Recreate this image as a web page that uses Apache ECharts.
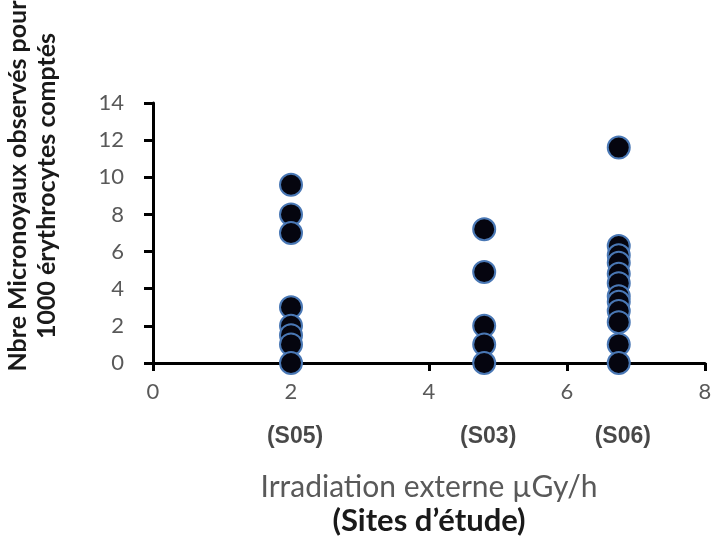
<!DOCTYPE html>
<html>
<head>
<meta charset="utf-8">
<script src="https://cdn.jsdelivr.net/npm/echarts@6/dist/echarts.min.js"></script>
<style>
html,body{margin:0;padding:0;background:#fff;}
#chart{width:711px;height:537px;}
</style>
</head>
<body>
<div id="chart"></div>
<script>
// Data
var siteX = [2, 4.8, 6.75];
var siteLabels = ['(S05)', '(S03)', '(S06)'];
var s05 = [9.6, 8.0, 7.0, 3.0, 2.0, 1.5, 1.0, 0];
var s03 = [7.2, 4.9, 2.0, 1.0, 0];
var s06 = [11.6, 6.3, 5.8, 5.4, 4.8, 4.3, 3.6, 3.3, 2.8, 2.2, 1.0, 0];
var xTicks = [0, 2, 4, 6, 8];
var yTicks = [0, 2, 4, 6, 8, 10, 12, 14];
var xTitle = 'Irradiation externe \u00b5Gy/h';
var xSubTitle = '(Sites d\u2019\u00e9tude)';
var yTitle1 = 'Nbre Micronoyaux observ\u00e9s pour';
var yTitle2 = '1000 \u00e9rythrocytes compt\u00e9s';

var groups = [s05, s03, s06];
var points = [];
groups.forEach(function (g, i) {
  g.forEach(function (v) { points.push([siteX[i], v]); });
});
var siteData = siteX.map(function (x, i) { return { value: [x, 0], name: siteLabels[i] }; });

var chart = echarts.init(document.getElementById('chart'));
var labelFont = 'Lato, Carlito, "Open Sans", sans-serif';
chart.setOption({
  animation: false,
  grid: { left: 153, right: 6, top: 103, bottom: 174, containLabel: false, outerBoundsMode: 'none' },
  xAxis: {
    type: 'value', min: xTicks[0], max: xTicks[xTicks.length - 1], interval: 2,
    axisLine: { lineStyle: { color: '#000', width: 3 } },
    axisTick: { show: true, length: 8, lineStyle: { color: '#000', width: 3 } },
    splitLine: { show: false },
    axisLabel: { margin: 18, color: '#595959', fontSize: 22, fontFamily: labelFont },
    name: '{a|' + xTitle + '}\n{b|' + xSubTitle + '}',
    nameLocation: 'middle', nameGap: 107,
    nameTextStyle: {
      rich: {
        a: { fontSize: 30, color: '#595959', fontFamily: labelFont, lineHeight: 34, align: 'center' },
        b: { fontSize: 31, color: '#1a1a1a', fontWeight: 'bold', fontFamily: labelFont, lineHeight: 34, align: 'center' }
      }
    }
  },
  yAxis: {
    type: 'value', min: yTicks[0], max: yTicks[yTicks.length - 1], interval: 2,
    axisLine: { show: true, lineStyle: { color: '#000', width: 3 } },
    axisTick: { show: true, length: 9, lineStyle: { color: '#000', width: 3 } },
    splitLine: { show: false },
    axisLabel: { margin: 29, color: '#595959', fontSize: 22, fontFamily: labelFont }
  },
  graphic: [{
    type: 'text', x: 32, y: 186, rotation: Math.PI / 2,
    style: {
      text: yTitle1 + '\n' + yTitle2,
      font: 'bold 25px ' + labelFont,
      fill: '#1a1a1a', align: 'center', verticalAlign: 'middle', lineHeight: 29
    }
  }],
  series: [{
    type: 'scatter', data: points, symbolSize: 22,
    itemStyle: { color: '#05050f', borderColor: '#4a78b5', borderWidth: 2, opacity: 1 },
    z: 3
  }, {
    type: 'scatter', data: siteData, symbolSize: 0, silent: true,
    label: {
      show: true, position: 'bottom', distance: 62, offset: [4, 0],
      formatter: function (p) { return p.name; },
      fontFamily: '"Liberation Sans", Arial, sans-serif', fontWeight: 'bold', fontSize: 23, color: '#1a1a1a'
    }
  }]
});
</script>
</body>
</html>
